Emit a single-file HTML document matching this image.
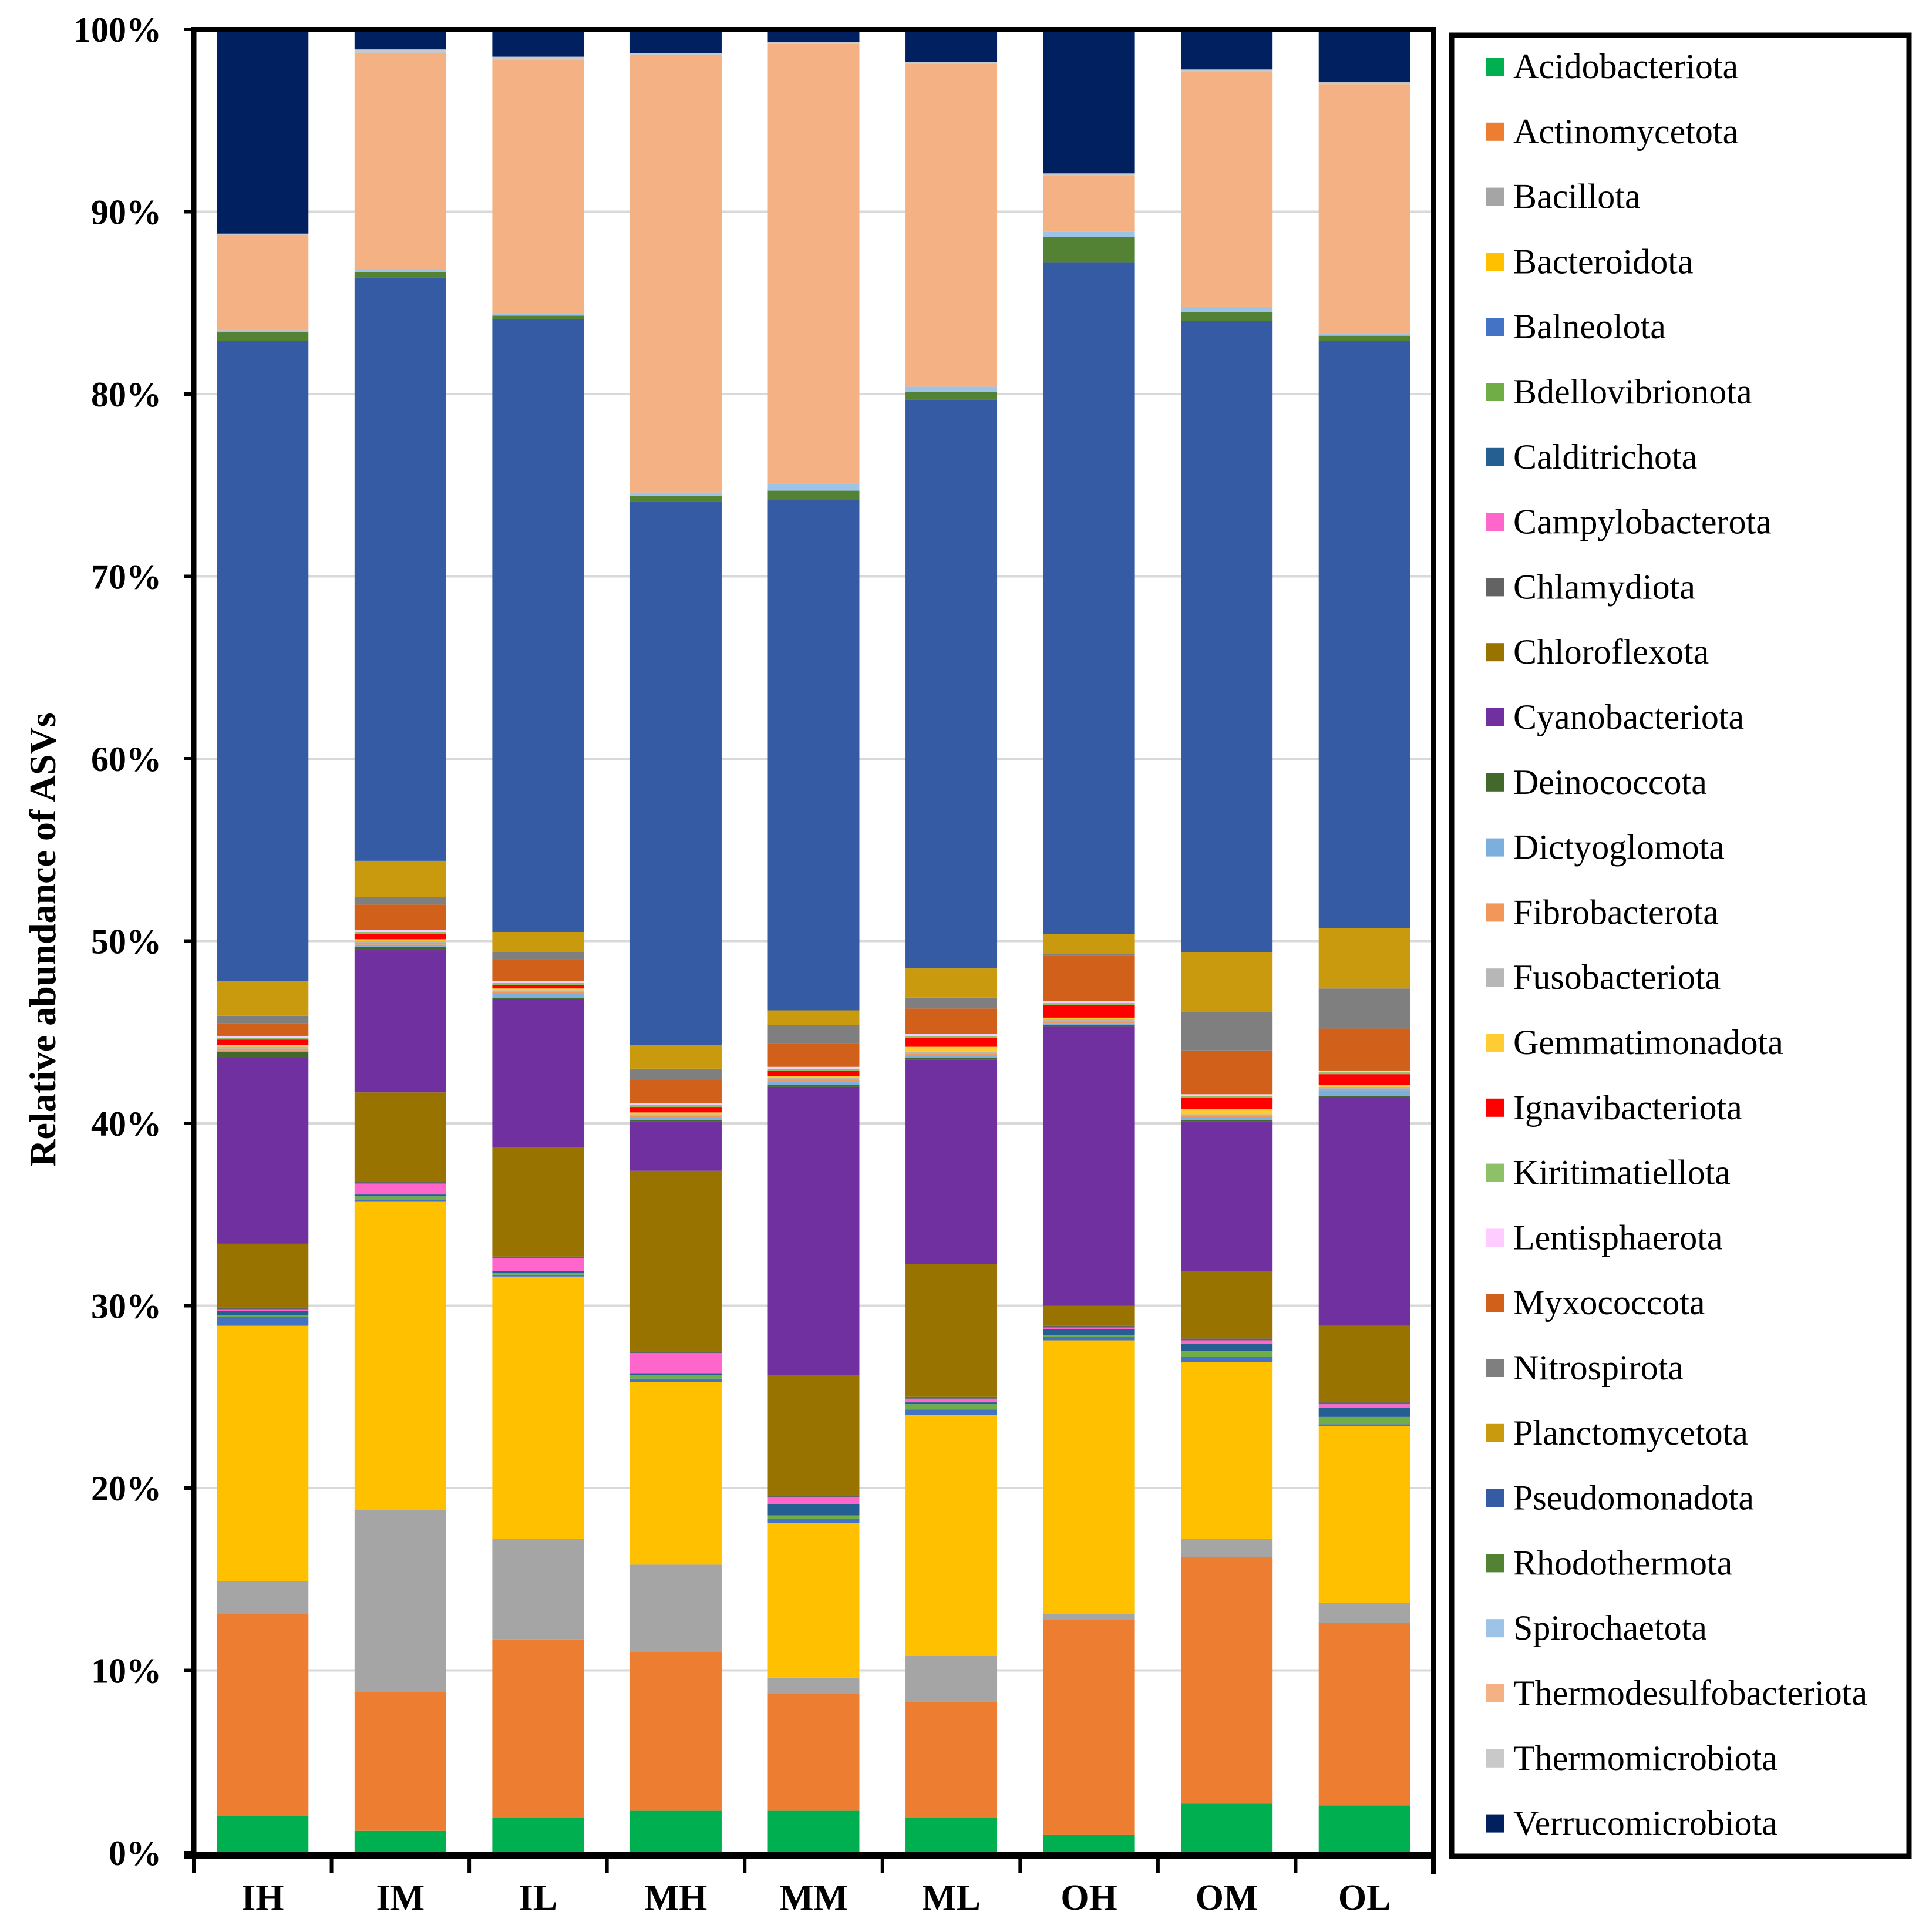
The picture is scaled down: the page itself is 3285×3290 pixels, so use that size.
<!DOCTYPE html>
<html><head><meta charset="utf-8"><style>
html,body{margin:0;padding:0;background:#fff;}
svg{display:block;font-family:"Liberation Serif",serif;}
</style></head><body>
<svg id="chart" width="3285" height="3290" viewBox="0 0 3285 3290" xmlns="http://www.w3.org/2000/svg">
<g id="grid"></g>
<g id="bars"></g>
<g id="axes"></g>
<g id="legend"></g>
</svg>
<script>
const categories = ["Acidobacteriota","Actinomycetota","Bacillota","Bacteroidota","Balneolota","Bdellovibrionota","Calditrichota","Campylobacterota","Chlamydiota","Chloroflexota","Cyanobacteriota","Deinococcota","Dictyoglomota","Fibrobacterota","Fusobacteriota","Gemmatimonadota","Ignavibacteriota","Kiritimatiellota","Lentisphaerota","Myxococcota","Nitrospirota","Planctomycetota","Pseudomonadota","Rhodothermota","Spirochaetota","Thermodesulfobacteriota","Thermomicrobiota","Verrucomicrobiota"];
const colors = ["#00B050","#ED7D31","#A5A5A5","#FFC000","#4472C4","#70AD47","#255E91","#FF66CC","#636363","#997300","#7030A0","#43682B","#7CAFDD","#F1975A","#B7B7B7","#FFCD33","#FF0000","#8CC168","#FFCCFF","#D0601A","#7F7F7F","#C99A0D","#345BA3","#548235","#9DC3E6","#F4B183","#C9C9C9","#002060"];
const samples = ["IH","IM","IL","MH","MM","ML","OH","OM","OL"];
const IH = [2.0,11.1,1.8,14.0,0.5,0.1,0.2,0.1,0.1,3.5,10.2,0.3,0.1,0.1,0.1,0.1,0.3,0.1,0.1,0.7,0.4,1.9,35.1,0.5,0.1,5.2,0.1,11.3];
const IM = [1.2,7.6,10.0,16.9,0.1,0.2,0.1,0.6,0.1,4.9,7.8,0.2,0.1,0.1,0.1,0.1,0.3,0.1,0.1,1.4,0.4,2.0,32.0,0.3,0.1,11.9,0.2,1.3];
const IL = [1.9,9.8,5.5,14.4,0.1,0.1,0.1,0.7,0.1,6.0,8.1,0.1,0.2,0.1,0.1,0.1,0.2,0.1,0.1,1.2,0.4,1.1,33.6,0.2,0.1,13.9,0.2,1.6];
const MH = [2.3,8.7,4.8,10.0,0.2,0.2,0.1,1.1,0.1,9.9,2.7,0.1,0.1,0.1,0.1,0.1,0.3,0.1,0.1,1.3,0.6,1.3,29.8,0.3,0.2,24.0,0.1,1.2];
const MM = [2.3,6.4,0.9,8.5,0.2,0.2,0.6,0.4,0.1,6.6,15.8,0.1,0.2,0.1,0.1,0.1,0.3,0.1,0.1,1.3,1.0,0.8,28.0,0.5,0.4,24.1,0.1,0.6];
const ML = [1.9,6.4,2.5,13.2,0.3,0.3,0.1,0.2,0.1,7.3,11.2,0.1,0.1,0.1,0.1,0.3,0.5,0.1,0.1,1.4,0.6,1.6,31.2,0.4,0.3,17.7,0.1,1.8];
const OH = [1.0,11.8,0.3,15.0,0.2,0.1,0.3,0.1,0.1,1.1,15.3,0.1,0.1,0.1,0.1,0.1,0.7,0.1,0.1,2.5,0.1,1.1,36.8,1.4,0.3,3.1,0.1,8.3];
const OM = [2.7,13.5,1.0,9.7,0.3,0.3,0.4,0.2,0.1,3.7,8.2,0.1,0.1,0.1,0.1,0.3,0.6,0.1,0.1,2.4,2.1,3.3,34.6,0.5,0.3,12.9,0.1,2.4];
const OL = [2.6,10.0,1.1,9.7,0.1,0.4,0.5,0.2,0.1,4.2,12.5,0.1,0.3,0.1,0.1,0.1,0.6,0.1,0.1,2.3,2.2,3.3,32.2,0.3,0.1,13.7,0.1,3.0];
const seriesBySample = [IH,IM,IL,MH,MM,ML,OH,OM,OL];
const yTicks = [0,10,20,30,40,50,60,70,80,90,100];
const yTickLabels = ["0%","10%","20%","30%","40%","50%","60%","70%","80%","90%","100%"];

const NS = "http://www.w3.org/2000/svg";
const PL = 330, PR = 2441, PT = 50, PB = 3155;
const pitch = (PR - PL) / samples.length;
const barW = 156;
function yS(v){ return PB - (v/100)*(PB-PT); }
function xC(i){ return PL + pitch*(i+0.5); }
function mk(tag, attrs, parent){ const e=document.createElementNS(NS,tag); for(const k in attrs) e.setAttribute(k,attrs[k]); parent.appendChild(e); return e; }

const grid=document.getElementById('grid'), bars=document.getElementById('bars'), axes=document.getElementById('axes'), legend=document.getElementById('legend');

yTicks.forEach((t,i)=>{
  if(t>0 && t<100){
    const g=mk('line',{x1:PL,x2:PR,y1:yS(t),y2:yS(t),stroke:'#d9d9d9','stroke-width':4},grid);
    
    
  }
  const tk=mk('line',{x1:PL-16,x2:PL,y1:yS(t),y2:yS(t),stroke:'#000','stroke-width':6},axes);
  
  
  const lb=mk('text',{x:275,y:yS(t)+21,'text-anchor':'end','font-size':60,'font-weight':'bold',fill:'#000'},axes);
  lb.textContent=yTickLabels[i];
  
  
});

seriesBySample.forEach((vals,si)=>{
  let cum=0;
  vals.forEach((v,ci)=>{
    const lo=cum, hi=Math.min(100,cum+v); cum+=v;
    if(hi<=lo) return;
    const r=mk('rect',{x:xC(si)-barW/2,y:yS(hi),width:barW,height:yS(lo)-yS(hi),fill:colors[ci]},bars);
    
    
  });
});

const fr1=mk('line',{x1:PL,x2:PR+4,y1:PT,y2:PT,stroke:'#000','stroke-width':8},axes);


const fr2=mk('line',{x1:PR,x2:PR,y1:PT-4,y2:PB+36,stroke:'#000','stroke-width':8},axes);


const ya=mk('line',{x1:PL,x2:PL,y1:PT-4,y2:PB+6,stroke:'#000','stroke-width':9},axes);


const xa=mk('line',{x1:PL-16,x2:PR+4,y1:PB+5,y2:PB+5,stroke:'#000','stroke-width':12},axes);


for(let k=0;k<=samples.length;k++){
  const t=mk('line',{x1:PL+k*pitch,x2:PL+k*pitch,y1:PB+5,y2:PB+34,stroke:'#000','stroke-width':6},axes);
  
  
}
samples.forEach((s,i)=>{
  const t=mk('text',{x:xC(i),y:3252,'text-anchor':'middle','font-size':62,'font-weight':'bold',fill:'#000'},axes);
  t.textContent=s;
  
  
});
const yt=mk('text',{x:0,y:0,transform:'translate(94,1600) rotate(-90)','text-anchor':'middle','font-size':64,'font-weight':'bold',fill:'#000'},axes);
yt.textContent='Relative abundance of ASVs';



const lbox=mk('rect',{x:2472,y:60,width:779,height:3101,fill:'#fff',stroke:'#000','stroke-width':9},legend);


categories.forEach((c,i)=>{
  const cy=114+i*110.8;
  const g=mk('g',{},legend);
  
  
  const sw=mk('rect',{x:2531,y:cy-16,width:31,height:31,fill:colors[i]},g);
  
  
  const tx=mk('text',{x:2577,y:cy+19,'font-size':60,fill:'#000'},g);
  tx.textContent=c;
  
  
});
</script>
</body></html>
